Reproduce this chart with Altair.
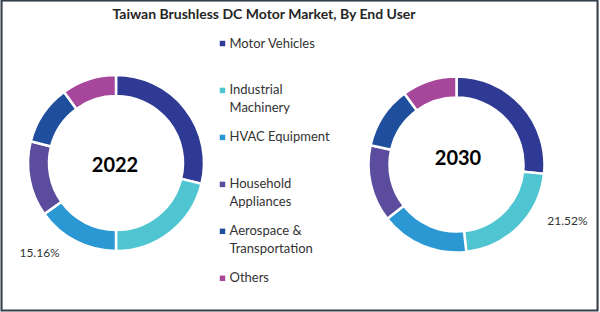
import altair as alt
import pandas as pd

# ---- data ----
title_text = "Taiwan Brushless  DC Motor Market, By End User"
years = ["2022", "2030"]
categories = ["Motor Vehicles", "Industrial Machinery", "HVAC Equipment",
              "Household Appliances", "Aerospace & Transportation", "Others"]
legend_labels = ["Motor Vehicles", "Industrial\nMachinery", "HVAC Equipment",
                 "Household\nAppliances", "Aerospace &\nTransportation", "Others"]
share_2022 = [28.8, 21.2, 15.16, 13.8, 11.0, 10.04]
share_2030 = [26.7, 21.52, 16.2, 14.1, 11.4, 10.08]
labelled = {"2022": "HVAC Equipment", "2030": "Industrial Machinery"}
colors = ["#2E3A94", "#4EC5D1", "#2B97D3", "#5B4C9E", "#1F4F9C", "#A6479B"]

FONT = "Lato"

rows = []
for yr, vals in zip(years, [share_2022, share_2030]):
    for i, (c, v) in enumerate(zip(categories, vals)):
        rows.append({"year": yr, "category": c, "value": v, "idx": i,
                     "label": f"{v:.2f}%" if labelled[yr] == c else ""})
df = pd.DataFrame(rows)
legend_df = pd.DataFrame({"category": categories, "legend_label": legend_labels})
years_df = pd.DataFrame({"year": years})
title_df = pd.DataFrame({"t": [title_text]})

color_scale = alt.Scale(domain=categories, range=colors)
theta_scale = alt.Scale(domain=[0, 1])
x_center = alt.X("year:N", axis=None,
                 scale=alt.Scale(type="point", domain=years, range=[114, 454.5], padding=0))
y_center = alt.Y("year:N", axis=None,
                 scale=alt.Scale(type="point", domain=years, range=[162, 163.5], padding=0))

base = (alt.Chart(df)
        .transform_stack(stack="value", as_=["start", "end"], groupby=["year"],
                         offset="normalize", sort=[alt.SortField("idx", order="ascending")])
        .transform_calculate(mid="(datum.start + datum.end) / 2"))

arcs = base.mark_arc(innerRadius=67, outerRadius=88, stroke="white", strokeWidth=2.5).encode(
    theta=alt.Theta("start:Q", scale=theta_scale, stack=None),
    theta2="end:Q",
    color=alt.Color("category:N", scale=color_scale, legend=None),
    x=x_center, y=y_center,
)

def pct_label(yr, dx, dy):
    return base.transform_filter(
        f"datum.label != '' && datum.year == '{yr}'"
    ).mark_text(radius=110, dx=dx, dy=dy, fontSize=12, font=FONT, color="#333333").encode(
        theta=alt.Theta("mid:Q", scale=theta_scale, stack=None),
        x=x_center, y=y_center, text="label:N",
    )

lab22 = pct_label("2022", -26, -8)
lab30 = pct_label("2030", 33, -21)

year_txt = alt.Chart(years_df).mark_text(fontSize=20, fontWeight="bold", font=FONT,
                                          color="#000000").encode(
    x=alt.X("year:N", axis=None,
            scale=alt.Scale(type="point", domain=years, range=[113, 456], padding=0)),
    y=alt.Y("year:N", axis=None,
            scale=alt.Scale(type="point", domain=years, range=[165, 158], padding=0)),
    text="year:N")

y_leg = alt.Y("category:N", axis=None,
              scale=alt.Scale(type="point", domain=categories, range=[42.5, 277.3], padding=0))
leg_sq = alt.Chart(legend_df).mark_square(size=30, opacity=1).encode(
    x=alt.value(220.5), y=y_leg,
    color=alt.Color("category:N", scale=color_scale, legend=None))
leg_txt = alt.Chart(legend_df).mark_text(align="left", baseline="line-top", lineBreak="\n",
                                         lineHeight=18, dy=-9, fontSize=13, font=FONT,
                                         color="#333333").encode(
    x=alt.value(227.5), y=y_leg, text="legend_label:N")

title = alt.Chart(title_df).mark_text(fontSize=14, fontWeight="bold", font=FONT,
                                       color="#262626").encode(
    x=alt.value(262), y=alt.value(14), text="t:N")

# outer frame of the picture
frame = alt.Chart(title_df).mark_rect(filled=False, stroke="#34414A", strokeWidth=2,
                                      fill=None).encode(
    x=alt.value(-0.5), x2=alt.value(595.5), y=alt.value(-0.5), y2=alt.value(309.5))

chart = (alt.layer(frame, arcs, lab22, lab30, year_txt, leg_sq, leg_txt, title)
         .resolve_scale(x="independent", y="independent")
         .properties(width=596, height=309, autosize="none",
                     padding={"left": 2, "top": 1, "right": 2, "bottom": 2})
         .configure_view(strokeWidth=0)
         .configure(background="white"))

chart.save("out.html", embed_options={"renderer": "svg", "actions": False})
